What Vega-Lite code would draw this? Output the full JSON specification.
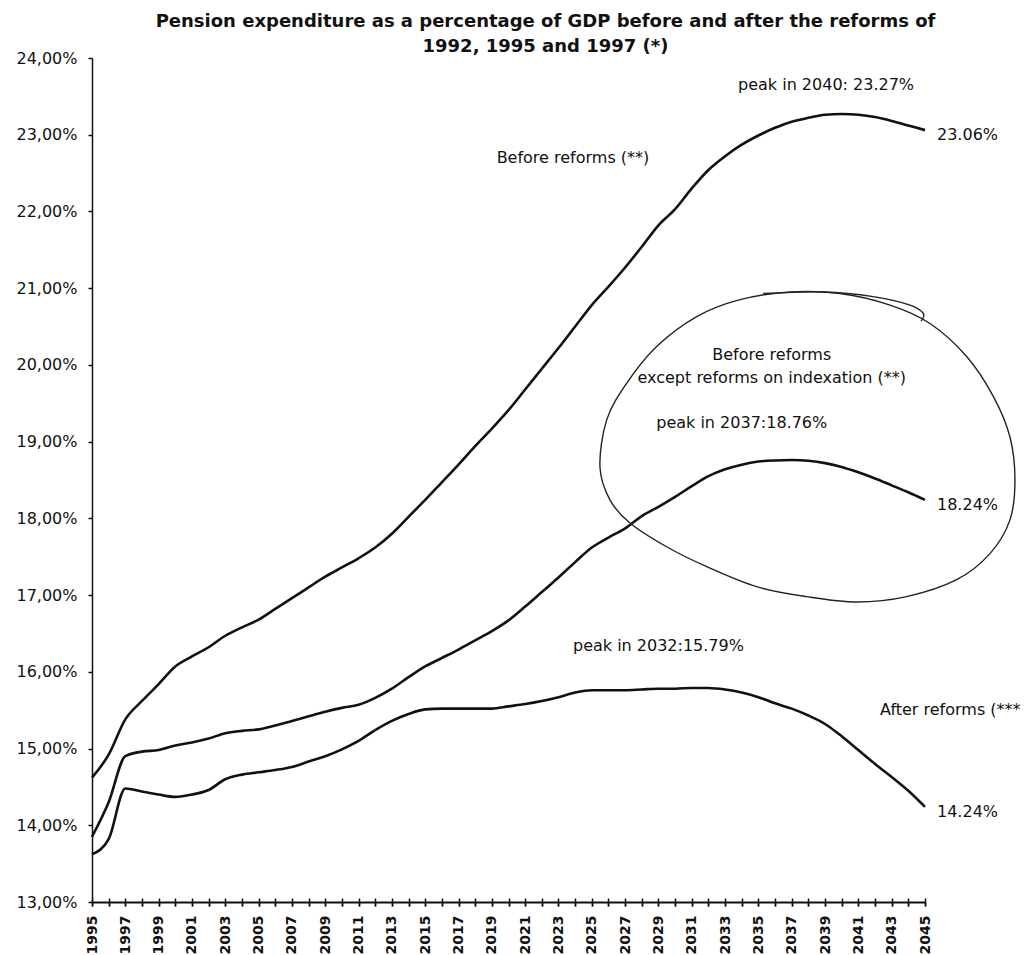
{
  "$schema": "https://vega.github.io/schema/vega-lite/v6.json",
  "width": 833,
  "height": 844,
  "autosize": {"type": "none"},
  "padding": {"left": 92, "top": 58, "right": 102, "bottom": 53},
  "background": "white",
  "view": {"stroke": null},
  "config": {"font": "DejaVu Sans"},
  "title": {
    "text": ["Pension expenditure as a percentage of GDP before and after the reforms of", "1992, 1995 and 1997 (*)"],
    "font": "DejaVu Sans",
    "fontSize": 18,
    "fontWeight": "bold",
    "color": "#111",
    "anchor": "middle",
    "dx": 37,
    "lineHeight": 25,
    "offset": -6
  },
  "datasets": {
    "series": [
      {"series": "Before reforms", "year": 1995, "pct": 14.62},
      {"series": "Before reforms", "year": 1996, "pct": 14.92},
      {"series": "Before reforms", "year": 1997, "pct": 15.38},
      {"series": "Before reforms", "year": 1998, "pct": 15.62},
      {"series": "Before reforms", "year": 1999, "pct": 15.84},
      {"series": "Before reforms", "year": 2000, "pct": 16.07},
      {"series": "Before reforms", "year": 2001, "pct": 16.20},
      {"series": "Before reforms", "year": 2002, "pct": 16.32},
      {"series": "Before reforms", "year": 2003, "pct": 16.47},
      {"series": "Before reforms", "year": 2004, "pct": 16.58},
      {"series": "Before reforms", "year": 2005, "pct": 16.68},
      {"series": "Before reforms", "year": 2006, "pct": 16.82},
      {"series": "Before reforms", "year": 2007, "pct": 16.96},
      {"series": "Before reforms", "year": 2008, "pct": 17.10},
      {"series": "Before reforms", "year": 2009, "pct": 17.24},
      {"series": "Before reforms", "year": 2010, "pct": 17.36},
      {"series": "Before reforms", "year": 2011, "pct": 17.48},
      {"series": "Before reforms", "year": 2012, "pct": 17.62},
      {"series": "Before reforms", "year": 2013, "pct": 17.80},
      {"series": "Before reforms", "year": 2014, "pct": 18.02},
      {"series": "Before reforms", "year": 2015, "pct": 18.24},
      {"series": "Before reforms", "year": 2016, "pct": 18.47},
      {"series": "Before reforms", "year": 2017, "pct": 18.70},
      {"series": "Before reforms", "year": 2018, "pct": 18.94},
      {"series": "Before reforms", "year": 2019, "pct": 19.17},
      {"series": "Before reforms", "year": 2020, "pct": 19.41},
      {"series": "Before reforms", "year": 2021, "pct": 19.68},
      {"series": "Before reforms", "year": 2022, "pct": 19.95},
      {"series": "Before reforms", "year": 2023, "pct": 20.22},
      {"series": "Before reforms", "year": 2024, "pct": 20.50},
      {"series": "Before reforms", "year": 2025, "pct": 20.78},
      {"series": "Before reforms", "year": 2026, "pct": 21.02},
      {"series": "Before reforms", "year": 2027, "pct": 21.27},
      {"series": "Before reforms", "year": 2028, "pct": 21.54},
      {"series": "Before reforms", "year": 2029, "pct": 21.82},
      {"series": "Before reforms", "year": 2030, "pct": 22.03},
      {"series": "Before reforms", "year": 2031, "pct": 22.30},
      {"series": "Before reforms", "year": 2032, "pct": 22.54},
      {"series": "Before reforms", "year": 2033, "pct": 22.72},
      {"series": "Before reforms", "year": 2034, "pct": 22.87},
      {"series": "Before reforms", "year": 2035, "pct": 22.99},
      {"series": "Before reforms", "year": 2036, "pct": 23.09},
      {"series": "Before reforms", "year": 2037, "pct": 23.17},
      {"series": "Before reforms", "year": 2038, "pct": 23.22},
      {"series": "Before reforms", "year": 2039, "pct": 23.26},
      {"series": "Before reforms", "year": 2040, "pct": 23.27},
      {"series": "Before reforms", "year": 2041, "pct": 23.26},
      {"series": "Before reforms", "year": 2042, "pct": 23.23},
      {"series": "Before reforms", "year": 2043, "pct": 23.18},
      {"series": "Before reforms", "year": 2044, "pct": 23.12},
      {"series": "Before reforms", "year": 2045, "pct": 23.06},
      {"series": "Except indexation", "year": 1995, "pct": 13.85},
      {"series": "Except indexation", "year": 1996, "pct": 14.30},
      {"series": "Except indexation", "year": 1997, "pct": 14.90},
      {"series": "Except indexation", "year": 1998, "pct": 14.96},
      {"series": "Except indexation", "year": 1999, "pct": 14.98},
      {"series": "Except indexation", "year": 2000, "pct": 15.04},
      {"series": "Except indexation", "year": 2001, "pct": 15.08},
      {"series": "Except indexation", "year": 2002, "pct": 15.13},
      {"series": "Except indexation", "year": 2003, "pct": 15.20},
      {"series": "Except indexation", "year": 2004, "pct": 15.23},
      {"series": "Except indexation", "year": 2005, "pct": 15.25},
      {"series": "Except indexation", "year": 2006, "pct": 15.30},
      {"series": "Except indexation", "year": 2007, "pct": 15.36},
      {"series": "Except indexation", "year": 2008, "pct": 15.42},
      {"series": "Except indexation", "year": 2009, "pct": 15.48},
      {"series": "Except indexation", "year": 2010, "pct": 15.53},
      {"series": "Except indexation", "year": 2011, "pct": 15.57},
      {"series": "Except indexation", "year": 2012, "pct": 15.66},
      {"series": "Except indexation", "year": 2013, "pct": 15.78},
      {"series": "Except indexation", "year": 2014, "pct": 15.93},
      {"series": "Except indexation", "year": 2015, "pct": 16.07},
      {"series": "Except indexation", "year": 2016, "pct": 16.18},
      {"series": "Except indexation", "year": 2017, "pct": 16.29},
      {"series": "Except indexation", "year": 2018, "pct": 16.41},
      {"series": "Except indexation", "year": 2019, "pct": 16.53},
      {"series": "Except indexation", "year": 2020, "pct": 16.67},
      {"series": "Except indexation", "year": 2021, "pct": 16.85},
      {"series": "Except indexation", "year": 2022, "pct": 17.04},
      {"series": "Except indexation", "year": 2023, "pct": 17.23},
      {"series": "Except indexation", "year": 2024, "pct": 17.43},
      {"series": "Except indexation", "year": 2025, "pct": 17.62},
      {"series": "Except indexation", "year": 2026, "pct": 17.75},
      {"series": "Except indexation", "year": 2027, "pct": 17.87},
      {"series": "Except indexation", "year": 2028, "pct": 18.03},
      {"series": "Except indexation", "year": 2029, "pct": 18.15},
      {"series": "Except indexation", "year": 2030, "pct": 18.28},
      {"series": "Except indexation", "year": 2031, "pct": 18.42},
      {"series": "Except indexation", "year": 2032, "pct": 18.55},
      {"series": "Except indexation", "year": 2033, "pct": 18.64},
      {"series": "Except indexation", "year": 2034, "pct": 18.70},
      {"series": "Except indexation", "year": 2035, "pct": 18.74},
      {"series": "Except indexation", "year": 2036, "pct": 18.755},
      {"series": "Except indexation", "year": 2037, "pct": 18.76},
      {"series": "Except indexation", "year": 2038, "pct": 18.75},
      {"series": "Except indexation", "year": 2039, "pct": 18.72},
      {"series": "Except indexation", "year": 2040, "pct": 18.67},
      {"series": "Except indexation", "year": 2041, "pct": 18.60},
      {"series": "Except indexation", "year": 2042, "pct": 18.52},
      {"series": "Except indexation", "year": 2043, "pct": 18.43},
      {"series": "Except indexation", "year": 2044, "pct": 18.34},
      {"series": "Except indexation", "year": 2045, "pct": 18.24},
      {"series": "After reforms", "year": 1995, "pct": 13.62},
      {"series": "After reforms", "year": 1996, "pct": 13.82},
      {"series": "After reforms", "year": 1997, "pct": 14.48},
      {"series": "After reforms", "year": 1998, "pct": 14.44},
      {"series": "After reforms", "year": 1999, "pct": 14.40},
      {"series": "After reforms", "year": 2000, "pct": 14.37},
      {"series": "After reforms", "year": 2001, "pct": 14.40},
      {"series": "After reforms", "year": 2002, "pct": 14.46},
      {"series": "After reforms", "year": 2003, "pct": 14.60},
      {"series": "After reforms", "year": 2004, "pct": 14.66},
      {"series": "After reforms", "year": 2005, "pct": 14.69},
      {"series": "After reforms", "year": 2006, "pct": 14.72},
      {"series": "After reforms", "year": 2007, "pct": 14.76},
      {"series": "After reforms", "year": 2008, "pct": 14.83},
      {"series": "After reforms", "year": 2009, "pct": 14.90},
      {"series": "After reforms", "year": 2010, "pct": 14.99},
      {"series": "After reforms", "year": 2011, "pct": 15.10},
      {"series": "After reforms", "year": 2012, "pct": 15.24},
      {"series": "After reforms", "year": 2013, "pct": 15.36},
      {"series": "After reforms", "year": 2014, "pct": 15.45},
      {"series": "After reforms", "year": 2015, "pct": 15.51},
      {"series": "After reforms", "year": 2016, "pct": 15.52},
      {"series": "After reforms", "year": 2017, "pct": 15.52},
      {"series": "After reforms", "year": 2018, "pct": 15.52},
      {"series": "After reforms", "year": 2019, "pct": 15.52},
      {"series": "After reforms", "year": 2020, "pct": 15.55},
      {"series": "After reforms", "year": 2021, "pct": 15.58},
      {"series": "After reforms", "year": 2022, "pct": 15.62},
      {"series": "After reforms", "year": 2023, "pct": 15.67},
      {"series": "After reforms", "year": 2024, "pct": 15.73},
      {"series": "After reforms", "year": 2025, "pct": 15.76},
      {"series": "After reforms", "year": 2026, "pct": 15.76},
      {"series": "After reforms", "year": 2027, "pct": 15.76},
      {"series": "After reforms", "year": 2028, "pct": 15.77},
      {"series": "After reforms", "year": 2029, "pct": 15.78},
      {"series": "After reforms", "year": 2030, "pct": 15.78},
      {"series": "After reforms", "year": 2031, "pct": 15.79},
      {"series": "After reforms", "year": 2032, "pct": 15.79},
      {"series": "After reforms", "year": 2033, "pct": 15.77},
      {"series": "After reforms", "year": 2034, "pct": 15.73},
      {"series": "After reforms", "year": 2035, "pct": 15.67},
      {"series": "After reforms", "year": 2036, "pct": 15.59},
      {"series": "After reforms", "year": 2037, "pct": 15.52},
      {"series": "After reforms", "year": 2038, "pct": 15.43},
      {"series": "After reforms", "year": 2039, "pct": 15.32},
      {"series": "After reforms", "year": 2040, "pct": 15.16},
      {"series": "After reforms", "year": 2041, "pct": 14.98},
      {"series": "After reforms", "year": 2042, "pct": 14.80},
      {"series": "After reforms", "year": 2043, "pct": 14.63},
      {"series": "After reforms", "year": 2044, "pct": 14.45},
      {"series": "After reforms", "year": 2045, "pct": 14.24}
    ],
    "ellipse": [
      {"order": 1, "year": 2025.49, "pct": 18.67},
      {"order": 2, "year": 2025.89, "pct": 19.28},
      {"order": 3, "year": 2027.09, "pct": 19.76},
      {"order": 4, "year": 2028.89, "pct": 20.24},
      {"order": 5, "year": 2031.30, "pct": 20.63},
      {"order": 6, "year": 2033.90, "pct": 20.85},
      {"order": 7, "year": 2036.90, "pct": 20.95},
      {"order": 8, "year": 2039.90, "pct": 20.93},
      {"order": 9, "year": 2042.90, "pct": 20.78},
      {"order": 10, "year": 2045.30, "pct": 20.54},
      {"order": 11, "year": 2047.50, "pct": 20.11},
      {"order": 12, "year": 2049.10, "pct": 19.59},
      {"order": 13, "year": 2050.10, "pct": 19.06},
      {"order": 14, "year": 2050.40, "pct": 18.50},
      {"order": 15, "year": 2050.10, "pct": 17.98},
      {"order": 16, "year": 2048.90, "pct": 17.54},
      {"order": 17, "year": 2046.90, "pct": 17.20},
      {"order": 18, "year": 2043.90, "pct": 16.98},
      {"order": 19, "year": 2040.90, "pct": 16.91},
      {"order": 20, "year": 2037.89, "pct": 16.98},
      {"order": 21, "year": 2034.89, "pct": 17.11},
      {"order": 22, "year": 2031.90, "pct": 17.37},
      {"order": 23, "year": 2029.49, "pct": 17.63},
      {"order": 24, "year": 2027.29, "pct": 17.94},
      {"order": 25, "year": 2026.09, "pct": 18.24}
    ],
    "hook": [
      {"order": 1, "year": 2035.29, "pct": 20.93},
      {"order": 2, "year": 2038.89, "pct": 20.95},
      {"order": 3, "year": 2041.89, "pct": 20.89},
      {"order": 4, "year": 2044.10, "pct": 20.78},
      {"order": 5, "year": 2044.90, "pct": 20.67},
      {"order": 6, "year": 2044.76, "pct": 20.57}
    ],
    "centerNotes": [
      {"label": "peak in 2040: 23.27%", "year": 2039.06, "pct": 23.65},
      {"label": "Before reforms (**)", "year": 2023.87, "pct": 22.70},
      {"label": "Before reforms", "year": 2035.8, "pct": 20.13},
      {"label": "except reforms on indexation  (**)", "year": 2035.8, "pct": 19.83},
      {"label": "peak in 2037:18.76%", "year": 2034.0, "pct": 19.24},
      {"label": "peak in 2032:15.79%", "year": 2029.0, "pct": 16.33}
    ],
    "leftNotes": [
      {"label": "After reforms (***", "year": 2042.3, "pct": 15.50}
    ]
  },
  "layer": [
    {
      "encoding": {
        "x": {
          "field": "year",
          "type": "quantitative",
          "scale": {"domain": [1995, 2045], "nice": false, "zero": false},
          "axis": {
            "orient": "bottom",
            "title": null,
            "grid": false,
            "values": [1995,1996,1997,1998,1999,2000,2001,2002,2003,2004,2005,2006,2007,2008,2009,2010,2011,2012,2013,2014,2015,2016,2017,2018,2019,2020,2021,2022,2023,2024,2025,2026,2027,2028,2029,2030,2031,2032,2033,2034,2035,2036,2037,2038,2039,2040,2041,2042,2043,2044,2045],
            "labelExpr": "datum.value % 2 == 1 ? toString(datum.value) : ''",
            "labelAngle": -90,
            "labelFont": "DejaVu Sans",
            "labelFontSize": 14,
            "labelFontWeight": "bold",
            "labelColor": "#111",
            "labelPadding": 9,
            "labelOverlap": false,
            "labelFlush": false,
            "tickSize": 4,
            "tickColor": "#111",
            "tickWidth": 1.5,
            "domainColor": "#111",
            "domainWidth": 2
          }
        },
        "y": {
          "field": "pct",
          "type": "quantitative",
          "scale": {"domain": [13, 24], "nice": false, "zero": false},
          "axis": {
            "title": null,
            "grid": false,
            "values": [13,14,15,16,17,18,19,20,21,22,23,24],
            "labelExpr": "replace(format(datum.value, '.2f'), '.', ',') + '%'",
            "labelFont": "DejaVu Sans",
            "labelFontSize": 16,
            "labelColor": "#111",
            "labelPadding": 11,
            "labelOverlap": false,
            "labelFlush": false,
            "tickSize": 4,
            "tickColor": "#111",
            "tickWidth": 1.5,
            "domainColor": "#111",
            "domainWidth": 1.5
          }
        }
      },
      "layer": [
        {
          "data": {"name": "series"},
          "mark": {"type": "line", "color": "#111", "strokeWidth": 2.6, "interpolate": "monotone"},
          "encoding": {"detail": {"field": "series", "type": "nominal"}}
        },
        {
          "data": {"name": "ellipse"},
          "mark": {"type": "line", "color": "#222", "strokeWidth": 1.4, "interpolate": "cardinal-closed"},
          "encoding": {"order": {"field": "order", "type": "quantitative"}}
        },
        {
          "data": {"name": "centerNotes"},
          "mark": {"type": "text", "align": "center", "baseline": "middle", "font": "DejaVu Sans", "fontSize": 16, "color": "#111"},
          "encoding": {"text": {"field": "label", "type": "nominal"}}
        },
        {
          "data": {"name": "leftNotes"},
          "mark": {"type": "text", "align": "left", "baseline": "middle", "font": "DejaVu Sans", "fontSize": 16, "color": "#111"},
          "encoding": {"text": {"field": "label", "type": "nominal"}}
        },
        {
          "data": {"name": "series"},
          "transform": [
            {"filter": "datum.year == 2045"},
            {"calculate": "format(datum.pct, '.2f') + '%'", "as": "endLabel"}
          ],
          "mark": {"type": "text", "align": "left", "baseline": "middle", "dx": 12, "dy": 5, "font": "DejaVu Sans", "fontSize": 16, "color": "#111"},
          "encoding": {"text": {"field": "endLabel", "type": "nominal"}}
        }
      ]
    },
    {
      "data": {"name": "hook"},
      "mark": {"type": "line", "color": "#222", "strokeWidth": 1.4, "interpolate": "cardinal"},
      "encoding": {
        "x": {
          "field": "year",
          "type": "quantitative",
          "scale": {"domain": [1995, 2045], "nice": false, "zero": false},
          "axis": {
            "orient": "bottom",
            "title": null,
            "grid": false,
            "labels": false,
            "domain": false,
            "offset": -4,
            "values": [1995,1996,1997,1998,1999,2000,2001,2002,2003,2004,2005,2006,2007,2008,2009,2010,2011,2012,2013,2014,2015,2016,2017,2018,2019,2020,2021,2022,2023,2024,2025,2026,2027,2028,2029,2030,2031,2032,2033,2034,2035,2036,2037,2038,2039,2040,2041,2042,2043,2044,2045],
            "tickSize": 8,
            "tickColor": "#111",
            "tickWidth": 1.5
          }
        },
        "y": {
          "field": "pct",
          "type": "quantitative",
          "scale": {"domain": [13, 24], "nice": false, "zero": false},
          "axis": {
            "title": null,
            "grid": false,
            "values": [13,14,15,16,17,18,19,20,21,22,23,24],
            "labelExpr": "replace(format(datum.value, '.2f'), '.', ',') + '%'",
            "labelFont": "DejaVu Sans",
            "labelFontSize": 16,
            "labelColor": "#111",
            "labelPadding": 11,
            "labelOverlap": false,
            "labelFlush": false,
            "tickSize": 4,
            "tickColor": "#111",
            "tickWidth": 1.5,
            "domainColor": "#111",
            "domainWidth": 1.5
          }
        },
        "order": {"field": "order", "type": "quantitative"}
      }
    }
  ],
  "resolve": {"axis": {"x": "independent", "y": "shared"}}
}
